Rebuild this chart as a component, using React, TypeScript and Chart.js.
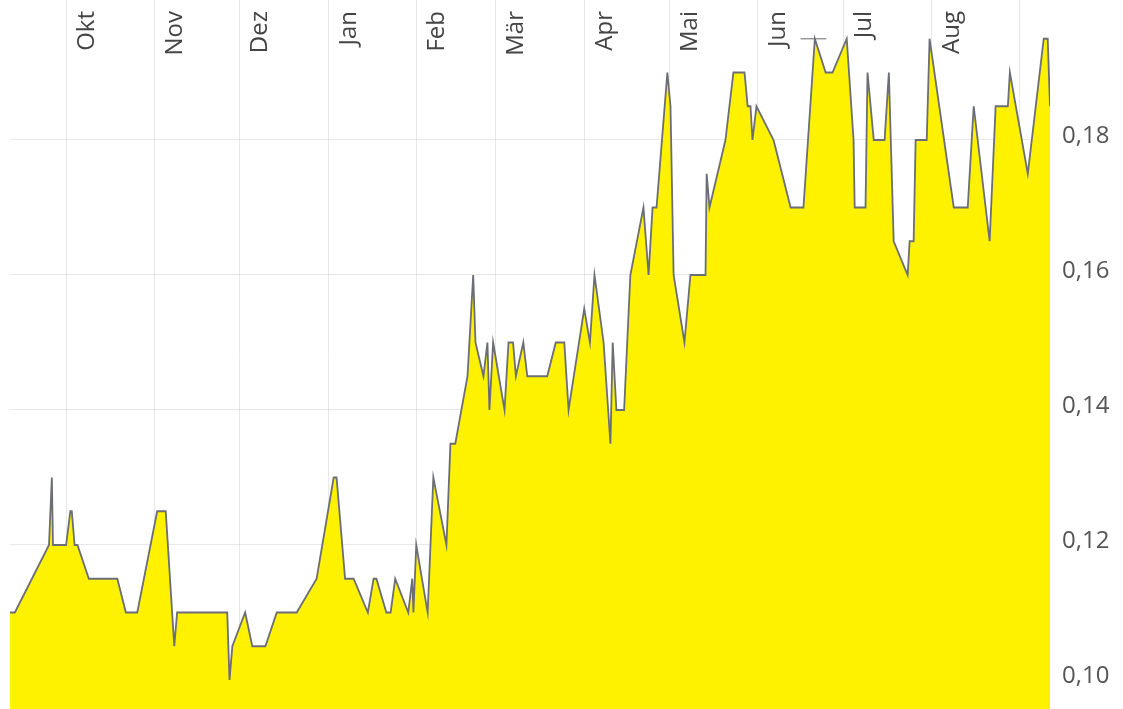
import React, { useEffect, useRef } from "react";
import { Chart, registerables } from "chart.js";

Chart.register(...registerables);

// Days counted from 1 Oct (day 0)
const dayOffsets = [
  -19.7, -18, -6, -5, -4.6, 0, 1.5, 2, 3, 4, 8, 18, 21, 25, 32, 35, 38, 39, 56.6, 57.4,
  58.4, 62.9, 65.4, 70, 74, 81, 88, 94, 95, 98, 101, 106, 108, 109, 112.5, 114, 115.6, 120.2, 121.6, 122,
  123, 127, 129, 133.6, 135, 136.7, 141, 143, 143.8, 146.6, 148, 148.7, 150, 154, 155.4, 157, 158, 160.6, 162, 169,
  172, 175, 176.5, 182, 184, 185.6, 188.8, 191.2, 192, 193.3, 196, 198.2, 202.8, 204.6, 206, 207.4, 211.2, 212.3, 213.4, 217.2,
  219.3, 224.6, 225, 226, 231.6, 234.4, 238.3, 239.4, 240.4, 241.1, 242.5, 248.5, 254.5, 259, 263, 266.8, 269.2, 274.2, 276.6, 277,
  280.8, 281.5, 283.7, 287.5, 289, 290.7, 295.6, 296.3, 297.7, 298.4, 302.3, 303.3, 311.8, 316.7, 318.8, 324.4, 326.5, 330.8, 331.5, 337.8,
  343.4, 344.8, 345.6,
];

const prices = [
  0.11, 0.11, 0.12, 0.13, 0.12, 0.12, 0.125, 0.125, 0.12, 0.12, 0.115, 0.115, 0.11, 0.11, 0.125, 0.125, 0.105, 0.11, 0.11, 0.10,
  0.105, 0.11, 0.105, 0.105, 0.11, 0.11, 0.115, 0.13, 0.13, 0.115, 0.115, 0.11, 0.115, 0.115, 0.11, 0.11, 0.115, 0.11, 0.115, 0.11,
  0.12, 0.11, 0.13, 0.12, 0.135, 0.135, 0.145, 0.16, 0.15, 0.145, 0.15, 0.14, 0.15, 0.14, 0.15, 0.15, 0.145, 0.15, 0.145, 0.145,
  0.15, 0.15, 0.14, 0.155, 0.15, 0.16, 0.15, 0.135, 0.15, 0.14, 0.14, 0.16, 0.17, 0.16, 0.17, 0.17, 0.19, 0.185, 0.16, 0.15,
  0.16, 0.16, 0.175, 0.17, 0.18, 0.19, 0.19, 0.185, 0.185, 0.18, 0.185, 0.18, 0.17, 0.17, 0.195, 0.19, 0.19, 0.195, 0.18, 0.17,
  0.17, 0.19, 0.18, 0.18, 0.19, 0.165, 0.16, 0.165, 0.165, 0.18, 0.18, 0.195, 0.17, 0.17, 0.185, 0.165, 0.185, 0.185, 0.19, 0.175,
  0.195, 0.195, 0.185,
];

const monthStarts = [0, 31, 61, 92, 123, 151, 182, 212, 243, 273, 304, 335];
const monthLabels = ["Okt", "Nov", "Dez", "Jan", "Feb", "Mär", "Apr", "Mai", "Jun", "Jul", "Aug", ""];

const yTicks = [0.1, 0.12, 0.14, 0.16, 0.18];

const minMarkerDays = [53.4, 60.4];
const minMarkerValue = 0.1;
const maxMarkerDays = [258, 267];
const maxMarkerValue = 0.195;

const xMin = -19.7;
const xMax = 345.6;
const yMin = 0.0957;
const yMax = 0.20074;

const monthLabelPlugin = {
  id: "monthLabels",
  afterDatasetsDraw(chart: any) {
    const xs = chart.scales.x;
    const ctx = chart.ctx;
    ctx.save();
    ctx.font = '24px "Open Sans"';
    ctx.fillStyle = "#444";
    ctx.textAlign = "right";
    ctx.textBaseline = "alphabetic";
    monthStarts.forEach((d, i) => {
      const label = monthLabels[i];
      if (!label) return;
      const px = xs.getPixelForValue(d);
      ctx.save();
      ctx.translate(px + 27.5, 11);
      ctx.rotate(-Math.PI / 2);
      ctx.fillText(label, 0, 0);
      ctx.restore();
    });
    ctx.restore();
  },
};

export default function App() {
  const ref = useRef<HTMLCanvasElement | null>(null);

  useEffect(() => {
    if (!ref.current) return;
    const mainData = dayOffsets.map((d, i) => ({ x: d, y: prices[i] }));
    const minData = minMarkerDays.map((d) => ({ x: d, y: minMarkerValue }));
    const maxData = maxMarkerDays.map((d) => ({ x: d, y: maxMarkerValue }));
    const chart = new Chart(ref.current, {
      type: "line",
      data: {
        datasets: [
          {
            data: mainData,
            borderColor: "#6b6e75",
            borderWidth: 1.8,
            backgroundColor: "#fff200",
            fill: "start",
            pointRadius: 0,
            tension: 0,
          },
          {
            data: minData,
            borderColor: "#8a8a8a",
            borderWidth: 1.3,
            fill: false,
            pointRadius: 0,
          },
          {
            data: maxData,
            borderColor: "#8a8a8a",
            borderWidth: 1.3,
            fill: false,
            pointRadius: 0,
          },
        ],
      },
      options: {
        animation: false,
        responsive: true,
        maintainAspectRatio: false,
        layout: { padding: { left: 10, top: 0, right: 0, bottom: 0 } },
        plugins: {
          legend: { display: false },
          tooltip: { enabled: false },
        },
        scales: {
          x: {
            type: "linear",
            min: xMin,
            max: xMax,
            z: 1,
            afterBuildTicks: (scale: any) => {
              scale.ticks = monthStarts.map((v) => ({ value: v }));
            },
            afterFit: (scale: any) => {
              scale.height = 0;
              scale.paddingLeft = 0;
              scale.paddingRight = 0;
              scale.paddingTop = 0;
              scale.paddingBottom = 0;
            },
            ticks: { display: false },
            grid: { color: "rgba(0,0,0,0.09)", drawTicks: false, lineWidth: 1 },
            border: { display: false },
          },
          y: {
            position: "right",
            min: yMin,
            max: yMax,
            z: 1,
            afterBuildTicks: (scale: any) => {
              scale.ticks = yTicks.map((v) => ({ value: v }));
            },
            afterFit: (scale: any) => {
              scale.width = 73;
              scale.paddingTop = 0;
              scale.paddingBottom = 0;
            },
            ticks: {
              padding: 12,
              labelOffset: -4,
              color: "#555",
              font: { family: '"Open Sans"', size: 24 },
              callback: (v: any) => Number(v).toFixed(2).replace(".", ","),
            },
            grid: { color: "rgba(0,0,0,0.09)", drawTicks: false, lineWidth: 1 },
            border: { display: false },
          },
        },
      },
      plugins: [monthLabelPlugin],
    });
    return () => chart.destroy();
  }, []);

  return (
    <div style={{ position: "fixed", left: 0, top: 0, width: 1123, height: 709, background: "#fff" }}>
      <canvas ref={ref} />
    </div>
  );
}
